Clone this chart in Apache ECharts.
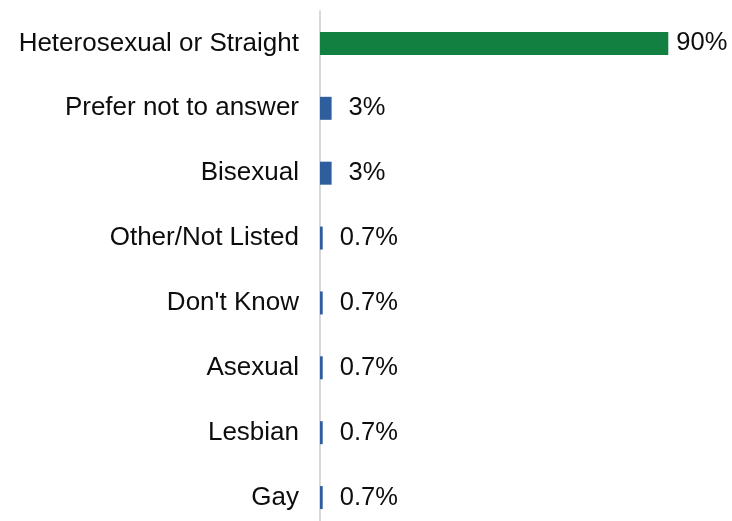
<!DOCTYPE html>
<html>
<head>
<meta charset="utf-8">
<script src="https://cdn.jsdelivr.net/npm/echarts@6/dist/echarts.min.js"></script>
<style>
  html, body { margin: 0; padding: 0; background: #fff; }
  #chart { width: 732px; height: 521px; }
</style>
</head>
<body>
<div id="chart"></div>
<script>
// Sexual orientation responses, share of respondents (%)
const categories = [
  'Heterosexual or Straight',
  'Prefer not to answer',
  'Bisexual',
  'Other/Not Listed',
  "Don't Know",
  'Asexual',
  'Lesbian',
  'Gay'
];
const values = [90, 3, 3, 0.7, 0.7, 0.7, 0.7, 0.7];
const valueLabels = ['90%', '3%', '3%', '0.7%', '0.7%', '0.7%', '0.7%', '0.7%'];

const GREEN = '#118040';
const BLUE = '#2F5E9E';
const FONT = '"Liberation Sans", Arial, sans-serif';
const TEXT = '#0d0d0d';

const chart = echarts.init(document.getElementById('chart'), null, { renderer: 'canvas' });

const seriesData = values.map((v, i) => ({
  value: v,
  itemStyle: { color: i === 0 ? GREEN : BLUE },
  label: { distance: i === 0 ? 8 : 17, formatter: valueLabels[i] }
}));

chart.setOption({
  animation: false,
  backgroundColor: '#ffffff',
  grid: { left: 320, right: 25, top: 11, height: 519, outerBoundsMode: 'none', containLabel: false },
  xAxis: {
    type: 'value',
    min: 0,
    max: 100,
    show: false
  },
  yAxis: {
    type: 'category',
    data: categories,
    inverse: true,
    axisLine: { show: true, lineStyle: { color: '#d9d9d9', width: 2 } },
    axisTick: { show: false },
    axisLabel: {
      margin: 21,
      color: TEXT,
      fontSize: 26,
      fontFamily: FONT
    }
  },
  series: [{
    type: 'bar',
    data: seriesData,
    barWidth: 23,
    label: {
      show: true,
      position: 'right',
      color: TEXT,
      fontSize: 25.5,
      fontFamily: FONT
    }
  }]
});
</script>
</body>
</html>
